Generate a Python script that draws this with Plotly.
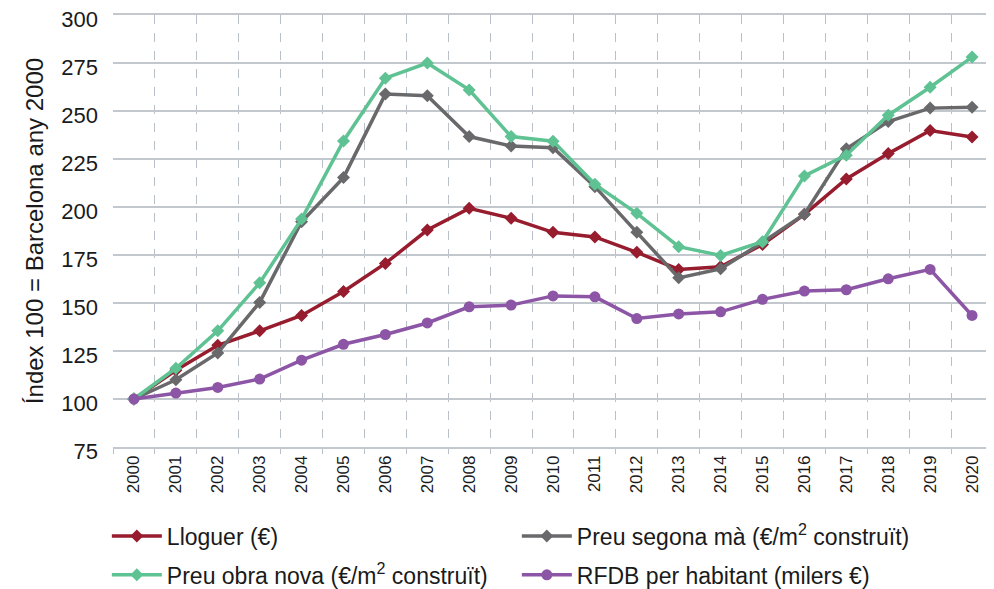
import plotly.graph_objects as go

years = [str(y) for y in range(2000, 2021)]
lloguer = [100, 115, 128, 135.5, 143.5, 156, 170.6, 188, 199.3, 194.1, 186.8, 184.4, 176.4, 167.5, 168.9, 180.5, 196.2, 214.6, 227.8, 239.8, 236.5]
segona_ma = [100, 110, 124, 150.3, 192.3, 215.3, 258.8, 257.9, 236.7, 231.8, 230.9, 210.6, 186.8, 163.1, 167.8, 181.6, 196.2, 230.3, 244.5, 251.5, 252]
obra_nova = [100, 116, 135.5, 160.5, 193.7, 234.4, 267.1, 275, 261, 236.7, 234.3, 211.8, 196.7, 179.3, 174.8, 181.9, 216.2, 227, 247.8, 262.4, 278.1]
rfdb = [100, 103.1, 106, 110.4, 120.2, 128.5, 133.6, 139.6, 148, 148.9, 153.7, 153.2, 141.9, 144.3, 145.4, 151.9, 156.2, 156.9, 162.6, 167.5, 143.5]

names = ["Lloguer (€)", "Preu segona mà (€/m<sup>2</sup> construït)",
         "Preu obra nova (€/m<sup>2</sup> construït)", "RFDB per habitant (milers €)"]
colors = ["#961c2e", "#69696c", "#5ec293", "#8c55a6"]
series = [lloguer, segona_ma, obra_nova, rfdb]
symbols = ["diamond", "diamond", "diamond", "circle"]
sizes = [10, 10, 10, 11]
legends = ["legend", "legend", "legend2", "legend2"]

fig = go.Figure()
for n, c, s, sym, sz, lg in zip(names, colors, series, symbols, sizes, legends):
    fig.add_trace(go.Scatter(x=years, y=s, name=n, mode="lines+markers",
                             line=dict(color=c, width=3.5),
                             marker=dict(symbol=sym, size=sz, color=c),
                             legend=lg))

font = "Liberation Sans, Arial, sans-serif"
leg_common = dict(orientation="h", xanchor="left", yanchor="middle",
                  entrywidth=345, entrywidthmode="pixels",
                  font=dict(size=23, family=font), itemwidth=50,
                  bgcolor="rgba(0,0,0,0)")
fig.update_layout(
    width=994, height=589,
    margin=dict(l=105, r=9, t=7, b=150, autoexpand=False),
    plot_bgcolor="white", paper_bgcolor="white",
    font=dict(family=font, size=18, color="#1a1a1a"),
    showlegend=True,
    legend=dict(x=-0.007, y=-0.206, **leg_common),
    legend2=dict(x=-0.007, y=-0.296, **leg_common),
    xaxis=dict(type="category", tickson="boundaries", showgrid=True,
               gridcolor="#b9c0c7", griddash="dash", gridwidth=1,
               tickangle=-90, ticks="outside", ticklen=5, tickcolor="#b9c0c7",
               showline=True, linecolor="#c2c8ce", linewidth=1.5, mirror=True,
               zeroline=False, tickfont=dict(size=17),
               range=[-0.5, 20.5]),
    yaxis=dict(range=[75, 300], dtick=25, tick0=75, showgrid=True,
               gridcolor="#c2c8ce", gridwidth=1.5, zeroline=False, showline=False,
               ticks="", ticklabelstandoff=14, tickfont=dict(size=22),
               ticklabeloverflow="allow", ticklabelshift=4,
               title=dict(text="Índex 100 = Barcelona any 2000", font=dict(size=24),
                          standoff=10)),
)
fig.write_html("out.html")
